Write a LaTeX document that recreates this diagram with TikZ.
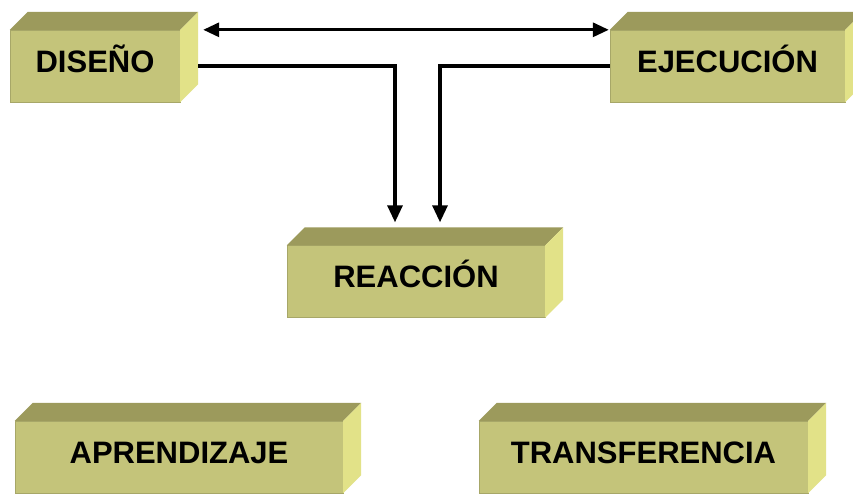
\documentclass[tikz,border=0pt]{standalone}
\usepackage{fontspec}
\setmainfont{Liberation Sans}
\usetikzlibrary{arrows.meta,calc}
\definecolor{frontc}{RGB}{196,196,122}
\definecolor{topc}{RGB}{156,154,92}
\definecolor{sidec}{RGB}{226,226,136}
\tikzset{
  blockbox/.style={fill=frontc, draw=frontc!85!black, line width=0.4pt, inner sep=0pt,
    minimum height=72pt, text height=22pt, text depth=10pt,
    font=\fontsize{31}{36}\selectfont\bfseries, text=black},
  conn/.style={line width=3.2pt, draw=black},
  tip/.style={-{Triangle[length=17pt,width=15pt]}},
  dtip/.style={{Triangle[length=16pt,width=14pt]}-{Triangle[length=16pt,width=14pt]}}
}
\newcommand{\blockfaces}[1]{%
  \fill[topc] (#1.north west) -- ++(18pt,18pt) -- ($(#1.north east)+(18pt,18pt)$) -- (#1.north east) -- cycle;
  \fill[sidec] (#1.north east) -- ++(18pt,18pt) -- ($(#1.south east)+(18pt,18pt)$) -- (#1.south east) -- cycle;
}
\begin{document}
\begin{tikzpicture}[x=1pt,y=1pt]
\useasboundingbox[fill=white] (0,0) rectangle (853,-493);
\node[blockbox, minimum width=170pt] (dis) at (95,-66) {DISEÑO};
\node[blockbox, minimum width=235pt] (eje) at (727.5,-66) {EJECUCIÓN};
\node[blockbox, minimum width=258pt] (rea) at (416,-281.5) {REACCIÓN};
\node[blockbox, minimum width=328pt] (apr) at (179,-457) {APRENDIZAJE};
\node[blockbox, minimum width=329pt] (tra) at (643.5,-457) {TRANSFERENCIA};
\blockfaces{dis}
\blockfaces{eje}
\blockfaces{rea}
\blockfaces{apr}
\blockfaces{tra}
\coordinate (ta) at ($(rea.north)+(-21pt,23pt)$);
\coordinate (tb) at ($(rea.north)+(24pt,23pt)$);
\draw[conn, dtip] ($(dis.north east)+(23pt,0)$) -- ($(eje.north west)+(-1pt,0)$);
\draw[conn, tip] ($(dis.east)+(18pt,0)$) -| (ta);
\draw[conn, tip] (eje.west) -| (tb);
\end{tikzpicture}
\end{document}
